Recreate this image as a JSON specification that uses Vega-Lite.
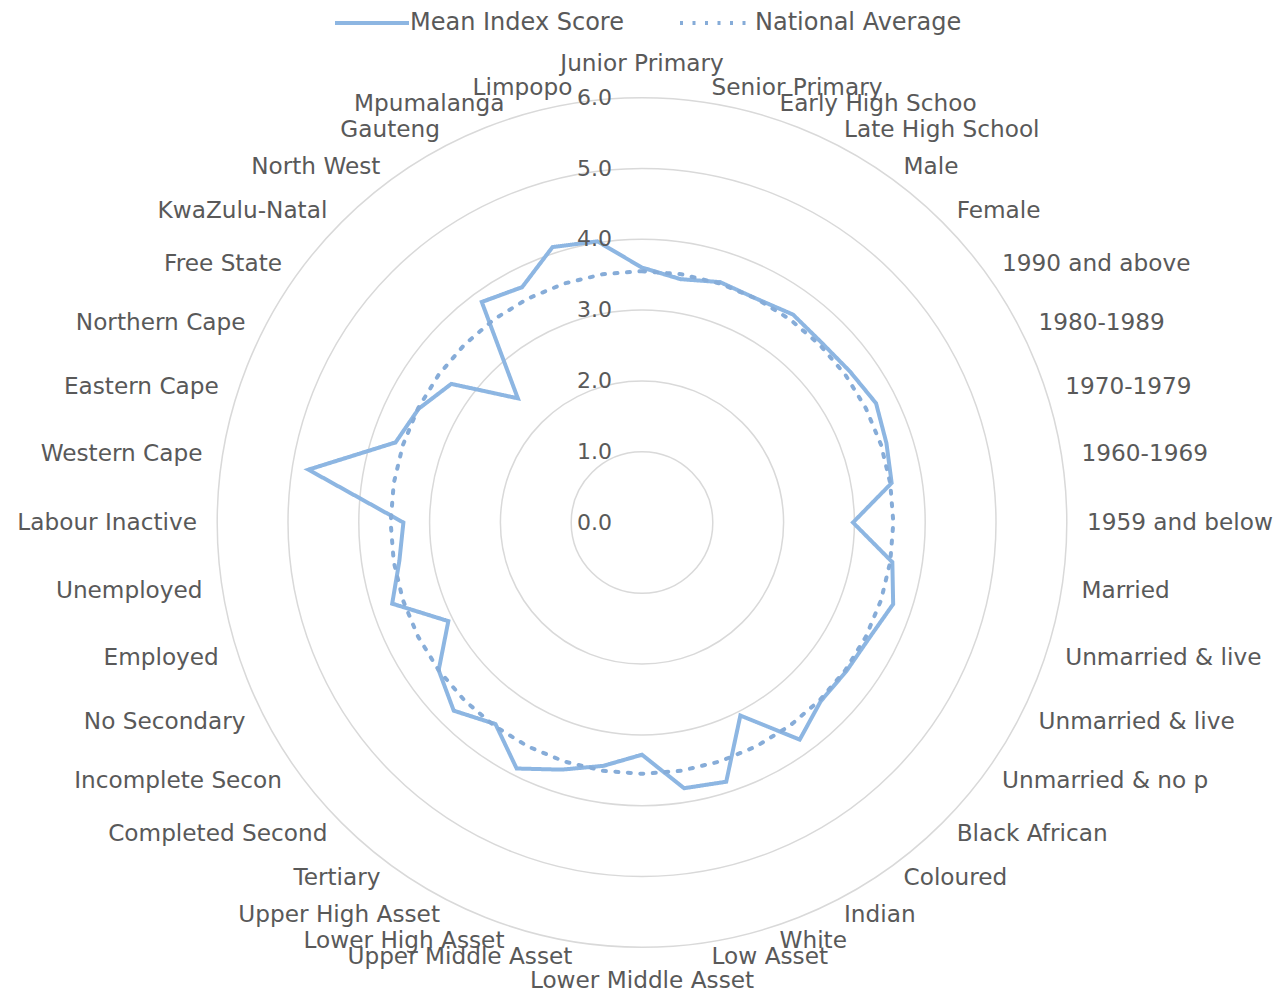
{
  "$schema": "https://vega.github.io/schema/vega-lite/v6.json",
  "width": 1266,
  "height": 947,
  "autosize": "none",
  "padding": {"left": 9, "top": 49, "right": 0, "bottom": 0},
  "background": "white",
  "config": {"view": {"stroke": null}},
  "datasets": {
    "rings": [{"ring": 0}, {"ring": 1}, {"ring": 2}, {"ring": 3}, {"ring": 4}, {"ring": 5}, {"ring": 6}],
    "scores": [
      {"series": "Mean Index Score", "category": "Junior Primary", "value": 3.60},
      {"series": "Mean Index Score", "category": "Senior Primary", "value": 3.48},
      {"series": "Mean Index Score", "category": "Early High Schoo", "value": 3.57},
      {"series": "Mean Index Score", "category": "Late High School", "value": 3.55},
      {"series": "Mean Index Score", "category": "Male", "value": 3.63},
      {"series": "Mean Index Score", "category": "Female", "value": 3.59},
      {"series": "Mean Index Score", "category": "1990 and above", "value": 3.63},
      {"series": "Mean Index Score", "category": "1980-1989", "value": 3.71},
      {"series": "Mean Index Score", "category": "1970-1979", "value": 3.63},
      {"series": "Mean Index Score", "category": "1960-1969", "value": 3.57},
      {"series": "Mean Index Score", "category": "1959 and below", "value": 2.98},
      {"series": "Mean Index Score", "category": "Married", "value": 3.58},
      {"series": "Mean Index Score", "category": "Unmarried & live", "value": 3.73},
      {"series": "Mean Index Score", "category": "Unmarried & live", "value": 3.60},
      {"series": "Mean Index Score", "category": "Unmarried & no p", "value": 3.57},
      {"series": "Mean Index Score", "category": "Black African", "value": 3.57},
      {"series": "Mean Index Score", "category": "Coloured", "value": 3.79},
      {"series": "Mean Index Score", "category": "Indian", "value": 3.06},
      {"series": "Mean Index Score", "category": "White", "value": 3.85},
      {"series": "Mean Index Score", "category": "Low Asset", "value": 3.80},
      {"series": "Mean Index Score", "category": "Lower Middle Asset", "value": 3.28},
      {"series": "Mean Index Score", "category": "Upper Middle Asset", "value": 3.48},
      {"series": "Mean Index Score", "category": "Lower High Asset", "value": 3.67},
      {"series": "Mean Index Score", "category": "Upper High Asset", "value": 3.90},
      {"series": "Mean Index Score", "category": "Tertiary", "value": 3.52},
      {"series": "Mean Index Score", "category": "Completed Second", "value": 3.76},
      {"series": "Mean Index Score", "category": "Incomplete Secon", "value": 3.55},
      {"series": "Mean Index Score", "category": "No Secondary", "value": 3.07},
      {"series": "Mean Index Score", "category": "Employed", "value": 3.71},
      {"series": "Mean Index Score", "category": "Unemployed", "value": 3.47},
      {"series": "Mean Index Score", "category": "Labour Inactive", "value": 3.37},
      {"series": "Mean Index Score", "category": "Western Cape", "value": 4.77},
      {"series": "Mean Index Score", "category": "Eastern Cape", "value": 3.66},
      {"series": "Mean Index Score", "category": "Northern Cape", "value": 3.54},
      {"series": "Mean Index Score", "category": "Free State", "value": 3.33},
      {"series": "Mean Index Score", "category": "KwaZulu-Natal", "value": 2.48},
      {"series": "Mean Index Score", "category": "North West", "value": 3.85},
      {"series": "Mean Index Score", "category": "Gauteng", "value": 3.73},
      {"series": "Mean Index Score", "category": "Mpumalanga", "value": 4.09},
      {"series": "Mean Index Score", "category": "Limpopo", "value": 4.02},
      {"series": "National Average", "category": "Junior Primary", "value": 3.55},
      {"series": "National Average", "category": "Senior Primary", "value": 3.55},
      {"series": "National Average", "category": "Early High Schoo", "value": 3.55},
      {"series": "National Average", "category": "Late High School", "value": 3.55},
      {"series": "National Average", "category": "Male", "value": 3.55},
      {"series": "National Average", "category": "Female", "value": 3.55},
      {"series": "National Average", "category": "1990 and above", "value": 3.55},
      {"series": "National Average", "category": "1980-1989", "value": 3.55},
      {"series": "National Average", "category": "1970-1979", "value": 3.55},
      {"series": "National Average", "category": "1960-1969", "value": 3.55},
      {"series": "National Average", "category": "1959 and below", "value": 3.55},
      {"series": "National Average", "category": "Married", "value": 3.55},
      {"series": "National Average", "category": "Unmarried & live", "value": 3.55},
      {"series": "National Average", "category": "Unmarried & live", "value": 3.55},
      {"series": "National Average", "category": "Unmarried & no p", "value": 3.55},
      {"series": "National Average", "category": "Black African", "value": 3.55},
      {"series": "National Average", "category": "Coloured", "value": 3.55},
      {"series": "National Average", "category": "Indian", "value": 3.55},
      {"series": "National Average", "category": "White", "value": 3.55},
      {"series": "National Average", "category": "Low Asset", "value": 3.55},
      {"series": "National Average", "category": "Lower Middle Asset", "value": 3.55},
      {"series": "National Average", "category": "Upper Middle Asset", "value": 3.55},
      {"series": "National Average", "category": "Lower High Asset", "value": 3.55},
      {"series": "National Average", "category": "Upper High Asset", "value": 3.55},
      {"series": "National Average", "category": "Tertiary", "value": 3.55},
      {"series": "National Average", "category": "Completed Second", "value": 3.55},
      {"series": "National Average", "category": "Incomplete Secon", "value": 3.55},
      {"series": "National Average", "category": "No Secondary", "value": 3.55},
      {"series": "National Average", "category": "Employed", "value": 3.55},
      {"series": "National Average", "category": "Unemployed", "value": 3.55},
      {"series": "National Average", "category": "Labour Inactive", "value": 3.55},
      {"series": "National Average", "category": "Western Cape", "value": 3.55},
      {"series": "National Average", "category": "Eastern Cape", "value": 3.55},
      {"series": "National Average", "category": "Northern Cape", "value": 3.55},
      {"series": "National Average", "category": "Free State", "value": 3.55},
      {"series": "National Average", "category": "KwaZulu-Natal", "value": 3.55},
      {"series": "National Average", "category": "North West", "value": 3.55},
      {"series": "National Average", "category": "Gauteng", "value": 3.55},
      {"series": "National Average", "category": "Mpumalanga", "value": 3.55},
      {"series": "National Average", "category": "Limpopo", "value": 3.55}
    ]
  },
  "layer": [
    {
      "data": {"name": "rings"},
      "transform": [{"filter": "datum.ring > 0"}],
      "mark": {"type": "arc", "theta": 0, "theta2": 6.283185307179586, "filled": false, "stroke": "#d9d9d9", "strokeWidth": 1.5},
      "encoding": {
        "radius": {"field": "ring", "type": "quantitative", "stack": null, "scale": {"type": "linear", "domain": [0, 6], "range": [0, 424.8], "zero": true}}
      }
    },
    {
      "data": {"name": "scores"},
      "transform": [
        {"window": [{"op": "row_number", "as": "idx"}], "groupby": ["series"]},
        {"calculate": "(datum.idx - 1) * PI / 20", "as": "angle"},
        {"calculate": "datum.value * sin(datum.angle)", "as": "px"},
        {"calculate": "datum.value * cos(datum.angle)", "as": "py"}
      ],
      "mark": {"type": "line", "interpolate": "linear-closed", "strokeWidth": 4, "strokeCap": "round"},
      "encoding": {
        "x": {"field": "px", "type": "quantitative", "scale": {"domain": [-8.9407, 8.9407], "nice": false, "zero": false}, "axis": null},
        "y": {"field": "py", "type": "quantitative", "scale": {"domain": [-6.6879, 6.6879], "nice": false, "zero": false}, "axis": null},
        "order": {"field": "idx", "type": "quantitative"},
        "color": {
          "field": "series", "type": "nominal",
          "scale": {"domain": ["Mean Index Score", "National Average"], "range": ["#8db6e2", "#86acd8"]},
          "legend": {
            "title": null, "orient": "none", "legendX": 324, "legendY": -65, "direction": "horizontal",
            "symbolType": "stroke", "symbolSize": 5476, "symbolStrokeWidth": 4,
            "labelFont": "DejaVu Sans", "labelFontSize": 24, "labelColor": "#595959", "labelOffset": -1, "labelLimit": 400,
            "columnPadding": 48
          }
        },
        "strokeDash": {
          "field": "series", "type": "nominal",
          "scale": {"domain": ["Mean Index Score", "National Average"], "range": [[1, 0], [3, 9.5]]},
          "legend": {
            "title": null, "orient": "none", "legendX": 324, "legendY": -65, "direction": "horizontal",
            "symbolType": "stroke", "symbolSize": 5476, "symbolStrokeWidth": 4,
            "labelFont": "DejaVu Sans", "labelFontSize": 24, "labelColor": "#595959", "labelOffset": -1, "labelLimit": 400,
            "columnPadding": 48
          }
        }
      }
    },
    {
      "data": {"name": "rings"},
      "mark": {"type": "text", "align": "right", "baseline": "middle", "dx": -30, "font": "DejaVu Sans", "fontSize": 22, "fill": "#595959"},
      "encoding": {
        "x": {"datum": 0, "type": "quantitative", "scale": {"domain": [-8.9407, 8.9407], "nice": false, "zero": false}, "axis": null},
        "y": {"field": "ring", "type": "quantitative", "scale": {"domain": [-6.6879, 6.6879], "nice": false, "zero": false}, "axis": null},
        "text": {"field": "ring", "type": "quantitative", "format": ".1f"}
      }
    },
    {
      "data": {"name": "scores"},
      "transform": [
        {"filter": "datum.series === 'Mean Index Score'"},
        {"window": [{"op": "row_number", "as": "idx"}]},
        {"calculate": "(datum.idx - 1) * PI / 20", "as": "angle"},
        {"calculate": "6.285 * sin(datum.angle)", "as": "lx"},
        {"calculate": "(datum.idx === 1 || datum.idx === 21 ? 6.48 : 6.215) * cos(datum.angle)", "as": "ly"}
      ],
      "encoding": {
        "x": {"field": "lx", "type": "quantitative", "scale": {"domain": [-8.9407, 8.9407], "nice": false, "zero": false}, "axis": null},
        "y": {"field": "ly", "type": "quantitative", "scale": {"domain": [-6.6879, 6.6879], "nice": false, "zero": false}, "axis": null},
        "text": {"field": "category", "type": "nominal"}
      },
      "layer": [
        {
          "transform": [{"filter": "datum.idx > 1 && datum.idx < 21"}],
          "mark": {"type": "text", "align": "left", "baseline": "middle", "font": "DejaVu Sans", "fontSize": 23.2, "fill": "#595959"}
        },
        {
          "transform": [{"filter": "datum.idx > 21"}],
          "mark": {"type": "text", "align": "right", "baseline": "middle", "font": "DejaVu Sans", "fontSize": 23.2, "fill": "#595959"}
        },
        {
          "transform": [{"filter": "datum.idx === 1 || datum.idx === 21"}],
          "mark": {"type": "text", "align": "center", "baseline": "middle", "font": "DejaVu Sans", "fontSize": 23.2, "fill": "#595959"}
        }
      ]
    }
  ]
}
